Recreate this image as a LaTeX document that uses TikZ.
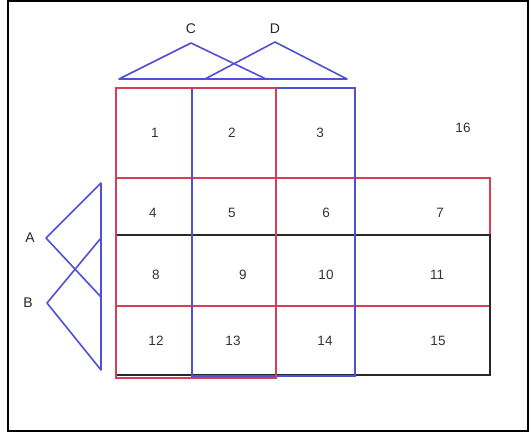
\documentclass[tikz,border=0pt]{standalone}
\usepackage{fontspec}
\setmainfont{Liberation Sans}
\definecolor{kred}{RGB}{214,62,86}
\definecolor{kblue}{RGB}{80,80,210}
\definecolor{kblack}{RGB}{40,40,40}
\tikzset{
  cellnum/.style={
    inner sep = 0pt,
    font = \fontsize{13.5}{16}\selectfont,
    text = black!80
  },
  varname/.style={
    inner sep = 0pt,
    font = \fontsize{14}{17}\selectfont,
    text = black!85
  },
  redgroup/.style={draw=kred, line width=2pt},
  bluegroup/.style={draw=kblue, line width=2pt},
  blackgroup/.style={draw=kblack, line width=2.4pt},
  bracket/.style={draw=kblue, line width=1.6pt, line join=round}
}

\begin{document}
\begin{tikzpicture}[x=1pt,y=-1pt]
  \useasboundingbox (0,0) rectangle (532,434);
  \draw[line width=2pt] (8,1) rectangle (528,431);

  % map groups
  \draw[redgroup] (116,178) rectangle (490,306);
  \draw[blackgroup] (116,235) rectangle (490,375);
  \draw[bluegroup] (192,88) rectangle (355,376);
  \draw[redgroup] (116,88) rectangle (276,378);

  % cell numbers
  \foreach \n/\x/\y in {1/155/133, 2/232/133, 3/320/133, 16/463/128,
                        4/153/213, 5/232/213, 6/326/213, 7/440/213,
                        8/156/275, 9/243/275, 10/326/275, 11/437/275,
                        12/156/341, 13/233/341, 14/325/341, 15/438/341}{
      \node[cellnum] (m\n) at (\x,\y) {\n};
    }

  % variable brackets
  \node[varname] (C) at (191,29) {C};
  \node[varname] (D) at (275,29) {D};
  \node[varname] (A) at (30,238) {A};
  \node[varname] (B) at (28,303) {B};
  \coordinate (c-top) at (191,43);
  \coordinate (c-left) at (119,79);
  \coordinate (c-right) at (266,79);
  \coordinate (d-top) at (275,42);
  \coordinate (d-left) at (205,79);
  \coordinate (d-right) at (347,79);
  \coordinate (a-tip) at (46,238);
  \coordinate (a-up) at (101,183);
  \coordinate (a-down) at (101,297);
  \coordinate (b-tip) at (47,303);
  \coordinate (b-up) at (101,238);
  \coordinate (b-down) at (101,370);
  \draw[bracket] (c-top) -- (c-left) -- (c-right) -- cycle;
  \draw[bracket] (d-top) -- (d-left) -- (d-right) -- cycle;
  \draw[bracket] (a-tip) -- (a-up) -- (a-down) -- cycle;
  \draw[bracket] (b-tip) -- (b-up) -- (b-down) -- cycle;
\end{tikzpicture}
\end{document}
